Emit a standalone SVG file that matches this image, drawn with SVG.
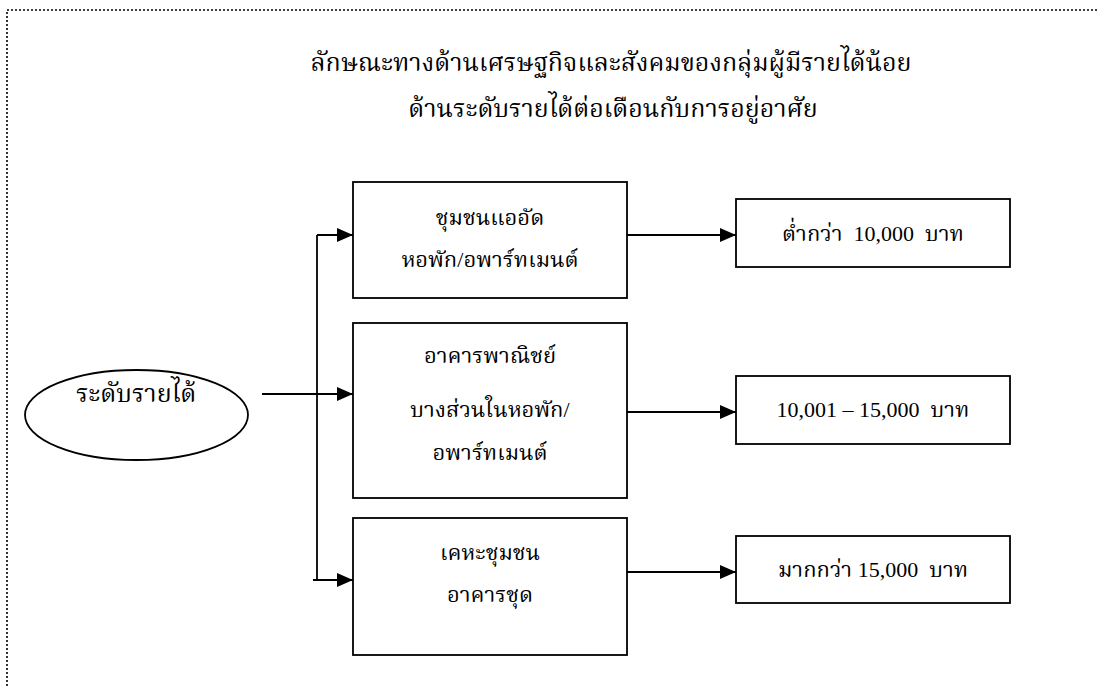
<svg xmlns="http://www.w3.org/2000/svg" width="1099" height="686" viewBox="0 0 1099 686">
<style>
text{font-family:"Liberation Serif","Norasi","Kinnari","Noto Serif Thai",serif;fill:#000;text-anchor:middle;white-space:pre}
.t{font-size:25px}
.b{font-size:22px}
.box{fill:#fff;stroke:#000;stroke-width:1.8}
.ln{fill:none;stroke:#000;stroke-width:1.8}
.arr{marker-end:url(#ah)}
</style>
<defs>
<marker id="ah" markerUnits="userSpaceOnUse" markerWidth="16" markerHeight="14" refX="16" refY="7" orient="auto">
<path d="M0,0 L16,7 L0,14 Z" fill="#000"/>
</marker>
</defs>
<rect x="7" y="10" width="1200" height="800" fill="none" stroke="#000" stroke-width="1.6" stroke-dasharray="2 2"/>
<g id="title">
<text class="t" x="611" y="71">ลักษณะทางด้านเศรษฐกิจและสังคมของกลุ่มผู้มีรายได้น้อย</text>
<text class="t" x="613" y="117">ด้านระดับรายได้ต่อเดือนกับการอยู่อาศัย</text>
</g>
<g id="income">
<ellipse cx="136.5" cy="415" rx="111.5" ry="45" class="box"/>
<text class="t" x="136" y="402">ระดับรายได้</text>
</g>
<g id="slum">
<rect x="353" y="182" width="274" height="116" class="box"/>
<text class="b" x="490" y="225">ชุมชนแออัด</text>
<text class="b" x="490" y="267">หอพัก/อพาร์ทเมนต์</text>
</g>
<g id="commercial">
<rect x="353" y="323" width="274" height="175" class="box"/>
<text class="b" x="490" y="363">อาคารพาณิชย์</text>
<text class="b" x="490" y="417">บางส่วนในหอพัก/</text>
<text class="b" x="490" y="460">อพาร์ทเมนต์</text>
</g>
<g id="housing">
<rect x="353" y="518" width="274" height="137" class="box"/>
<text class="b" x="490" y="560">เคหะชุมชน</text>
<text class="b" x="490" y="602">อาคารชุด</text>
</g>
<g id="low">
<rect x="736" y="199" width="274" height="68" class="box"/>
<text class="b" x="873" y="241">ต่ำกว่า  10,000  บาท</text>
</g>
<g id="mid">
<rect x="736" y="376" width="274" height="68" class="box"/>
<text class="b" x="873" y="417">10,001 – 15,000  บาท</text>
</g>
<g id="high">
<rect x="736" y="536" width="274" height="67" class="box"/>
<text class="b" x="873" y="577">มากกว่า 15,000  บาท</text>
</g>
<g id="connectors">
<path class="ln" d="M317,580 V235"/>
<path class="ln arr" d="M317,235 H353"/>
<path class="ln arr" d="M313,580 H353"/>
<path class="ln arr" d="M262,394 H353"/>
<path class="ln arr" d="M627,235 H736"/>
<path class="ln arr" d="M627,412 H736"/>
<path class="ln arr" d="M627,572 H736"/>
</g>
</svg>
